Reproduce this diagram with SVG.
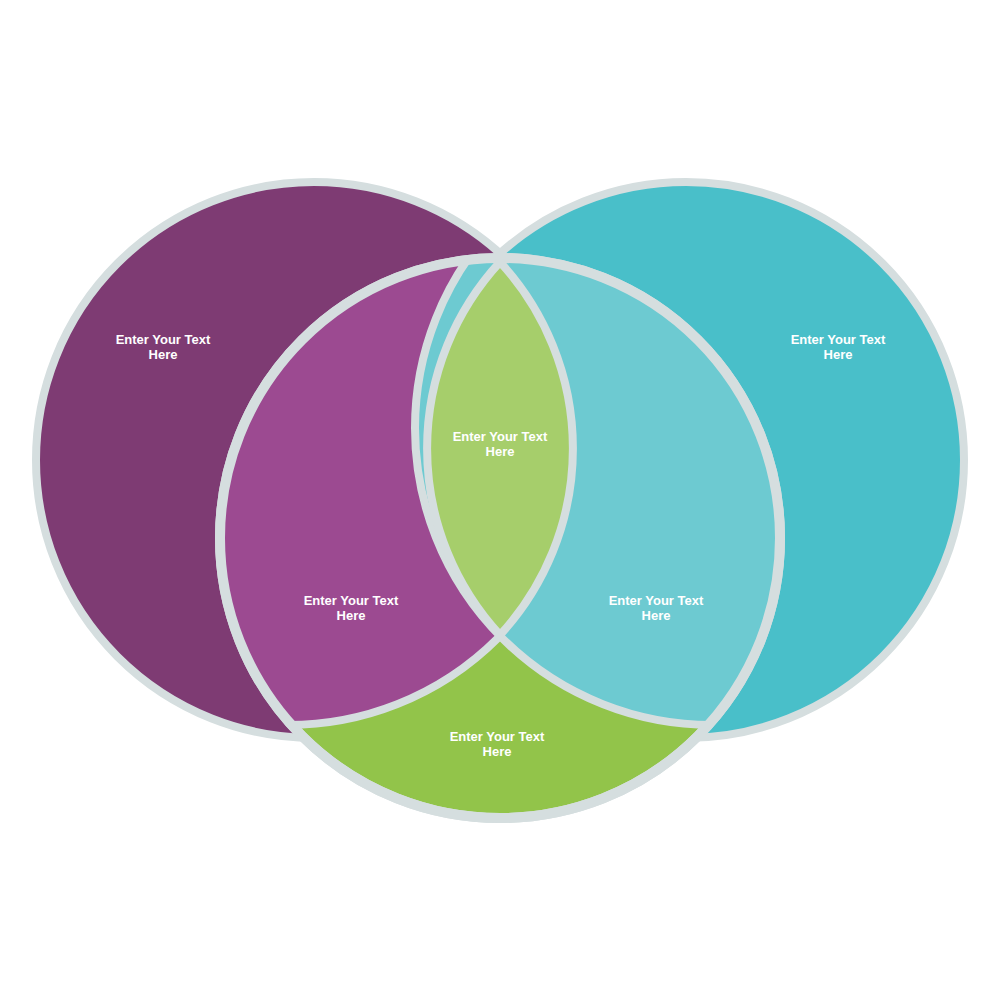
<svg xmlns="http://www.w3.org/2000/svg" width="1000" height="1000" viewBox="0 0 1000 1000">
<style>
.t{font-family:"Liberation Sans",Arial,sans-serif;font-weight:bold;font-size:13px;fill:#fff;text-anchor:middle}
.g{stroke:#D5DEDF}
</style>
<defs>
<clipPath id="bc"><circle cx="500" cy="538" r="280"/></clipPath>
</defs>
<rect width="1000" height="1000" fill="#fff"/>
<g id="left"><circle class="g" cx="314" cy="460" r="278" fill="#7E3B73" stroke-width="8"/></g>
<g id="right"><circle class="g" cx="686" cy="460" r="278" fill="#49BFC9" stroke-width="8"/></g>
<g id="bottom"><circle class="g" cx="500" cy="538" r="280" fill="#92C44A" stroke-width="10"/></g>
<g id="leftmid" clip-path="url(#bc)"><circle class="g" cx="288" cy="428" r="297" fill="#9C4A91" stroke-width="8"/></g>
<g id="rightmid" clip-path="url(#bc)"><circle class="g" cx="712" cy="428" r="297" fill="#6DCAD1" stroke-width="8"/></g>
<circle cx="500" cy="538" r="280" fill="none" class="g" stroke-width="10"/>
<g id="center"><path class="g" d="M500,262 A275,275 0 0 0 500,635 A275,275 0 0 0 500,262Z" fill="#A6CE6B" stroke-width="8"/></g>
<g id="labels">
<text class="t" x="163" y="344">Enter Your Text<tspan x="163" dy="15">Here</tspan></text>
<text class="t" x="838" y="344">Enter Your Text<tspan x="838" dy="15">Here</tspan></text>
<text class="t" x="500" y="441">Enter Your Text<tspan x="500" dy="15">Here</tspan></text>
<text class="t" x="351" y="605">Enter Your Text<tspan x="351" dy="15">Here</tspan></text>
<text class="t" x="656" y="605">Enter Your Text<tspan x="656" dy="15">Here</tspan></text>
<text class="t" x="497" y="741">Enter Your Text<tspan x="497" dy="15">Here</tspan></text>
</g>
</svg>
